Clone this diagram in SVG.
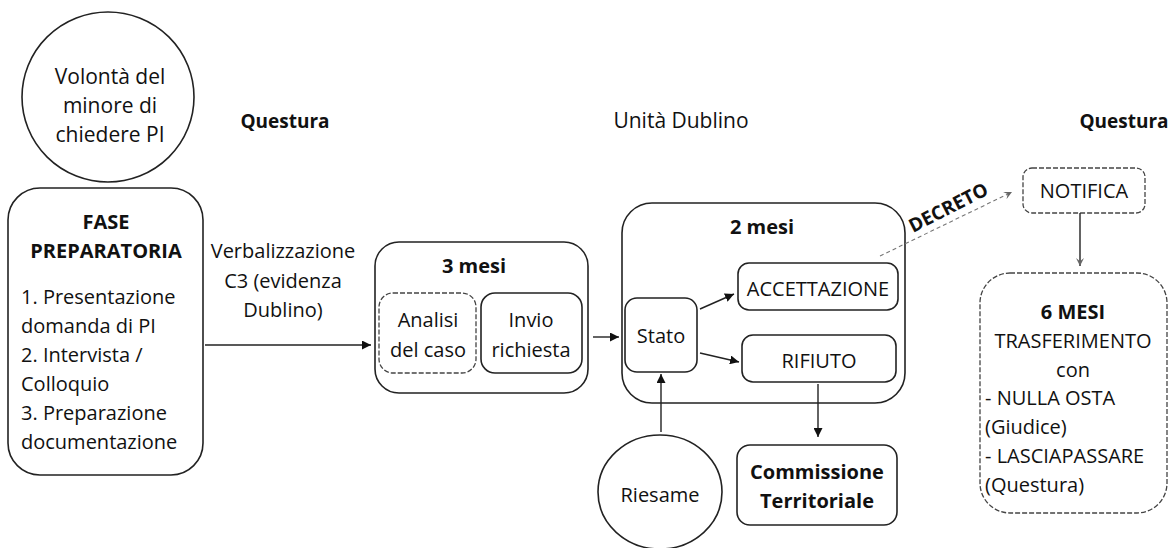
<svg xmlns="http://www.w3.org/2000/svg" width="1169" height="548" viewBox="0 0 1169 548">
<defs>
<style>
text{font-family:"Open Sans","Liberation Sans",Arial,sans-serif;font-size:20px;fill:#111}
.b{font-weight:bold}
.c{text-anchor:middle}
.box{fill:none;stroke:#222;stroke-width:1.6}
.dash{fill:none;stroke:#444;stroke-width:1.3;stroke-dasharray:5 2}
.ln{fill:none;stroke:#222;stroke-width:1.4}
</style>
<marker id="ah" viewBox="0 0 10 10" refX="10" refY="5" markerWidth="9" markerHeight="9" markerUnits="userSpaceOnUse" orient="auto">
<path d="M0,0L10,5L0,10z" fill="#111"/>
</marker>
<marker id="ahs" viewBox="0 0 10 10" refX="10" refY="5" markerWidth="8" markerHeight="8" markerUnits="userSpaceOnUse" orient="auto">
<path d="M0,0L10,5L0,10L4,5z" fill="#666"/>
</marker>
</defs>
<rect width="1169" height="548" fill="#fff"/>

<g id="labels">
<text class="b c" x="285" y="128" style="font-size:19px">Questura</text>
<text class="c" x="681" y="128" style="font-size:21px">Unità Dublino</text>
<text class="b c" x="1124" y="128" style="font-size:19px">Questura</text>
</g>

<g id="volonta">
<ellipse class="box" cx="108" cy="97" rx="86" ry="85"/>
<text class="c" x="110" y="84" style="font-size:21px">Volontà del</text>
<text class="c" x="110" y="113" style="font-size:21px">minore di</text>
<text class="c" x="110" y="142" style="font-size:21px">chiedere PI</text>
</g>

<g id="fase">
<rect class="box" x="8" y="188" width="195" height="287" rx="32"/>
<text class="b c" x="106" y="229">FASE</text>
<text class="b c" x="106" y="258">PREPARATORIA</text>
<text x="21" y="304">1. Presentazione</text>
<text x="21" y="333">domanda di PI</text>
<text x="21" y="362">2. Intervista /</text>
<text x="21" y="391">Colloquio</text>
<text x="21" y="420">3. Preparazione</text>
<text x="21" y="449">documentazione</text>
</g>

<g id="tre-mesi">
<rect class="box" x="375" y="242" width="213" height="151" rx="24"/>
<text class="b c" x="474" y="273">3 mesi</text>
</g>
<g id="analisi">
<rect class="dash" x="379" y="293" width="97" height="80" rx="14"/>
<text class="c" x="428" y="327">Analisi</text>
<text class="c" x="428" y="357">del caso</text>
</g>
<g id="invio">
<rect class="box" x="481" y="293" width="101" height="80" rx="14"/>
<text class="c" x="531" y="327">Invio</text>
<text class="c" x="531" y="357">richiesta</text>
</g>

<g id="due-mesi">
<rect class="box" x="622" y="203" width="283" height="200" rx="30"/>
<text class="b c" x="762" y="234">2 mesi</text>
</g>
<g id="stato">
<rect class="box" x="625" y="298" width="72" height="74" rx="12"/>
<text class="c" x="661" y="343">Stato</text>
</g>
<g id="accettazione">
<rect class="box" x="738" y="263" width="160" height="47" rx="11"/>
<text class="c" x="818" y="296">ACCETTAZIONE</text>
</g>
<g id="rifiuto">
<rect class="box" x="742" y="335" width="154" height="47" rx="11"/>
<text class="c" x="819" y="368">RIFIUTO</text>
</g>

<g id="riesame">
<ellipse class="box" cx="660" cy="492" rx="62" ry="57"/>
<text class="c" x="660" y="502">Riesame</text>
</g>
<g id="commissione">
<rect class="box" x="737" y="445" width="160" height="80" rx="13"/>
<text class="b c" x="817" y="479">Commissione</text>
<text class="b c" x="817" y="508">Territoriale</text>
</g>

<g id="notifica">
<rect class="dash" x="1023" y="168" width="122" height="45" rx="9"/>
<text class="c" x="1084" y="198">NOTIFICA</text>
</g>
<g id="sei-mesi">
<rect class="dash" x="980" y="273" width="187" height="240" rx="30"/>
<text class="b c" x="1073" y="319">6 MESI</text>
<text class="c" x="1073" y="348">TRASFERIMENTO</text>
<text class="c" x="1073" y="377">con</text>
<text x="985" y="405">- NULLA OSTA</text>
<text x="985" y="434">(Giudice)</text>
<text x="985" y="463">- LASCIAPASSARE</text>
<text x="985" y="492">(Questura)</text>
</g>

<g id="connectors">
<line class="ln" x1="205" y1="345" x2="371" y2="345" marker-end="url(#ah)"/>
<text class="c" x="283" y="258">Verbalizzazione</text>
<text class="c" x="283" y="288">C3 (evidenza</text>
<text class="c" x="283" y="317">Dublino)</text>
<line class="ln" x1="593" y1="337" x2="619" y2="337" marker-end="url(#ah)"/>
<line class="ln" x1="700" y1="309" x2="734" y2="294" marker-end="url(#ah)"/>
<line class="ln" x1="700" y1="353" x2="739" y2="362" marker-end="url(#ah)"/>
<line class="ln" x1="661" y1="432" x2="661" y2="374" marker-end="url(#ah)"/>
<line class="ln" x1="818" y1="384" x2="818" y2="437" marker-end="url(#ah)"/>
<line class="ln" x1="1080" y1="213" x2="1080" y2="266" stroke="#555" marker-end="url(#ahs)"/>
<line x1="880" y1="256" x2="1012" y2="192" stroke="#777" stroke-width="1.1" stroke-dasharray="4 3" marker-end="url(#ahs)"/>
<text class="b" x="0" y="0" transform="translate(913,233) rotate(-27)" style="font-size:19px">DECRETO</text>
</g>
</svg>
